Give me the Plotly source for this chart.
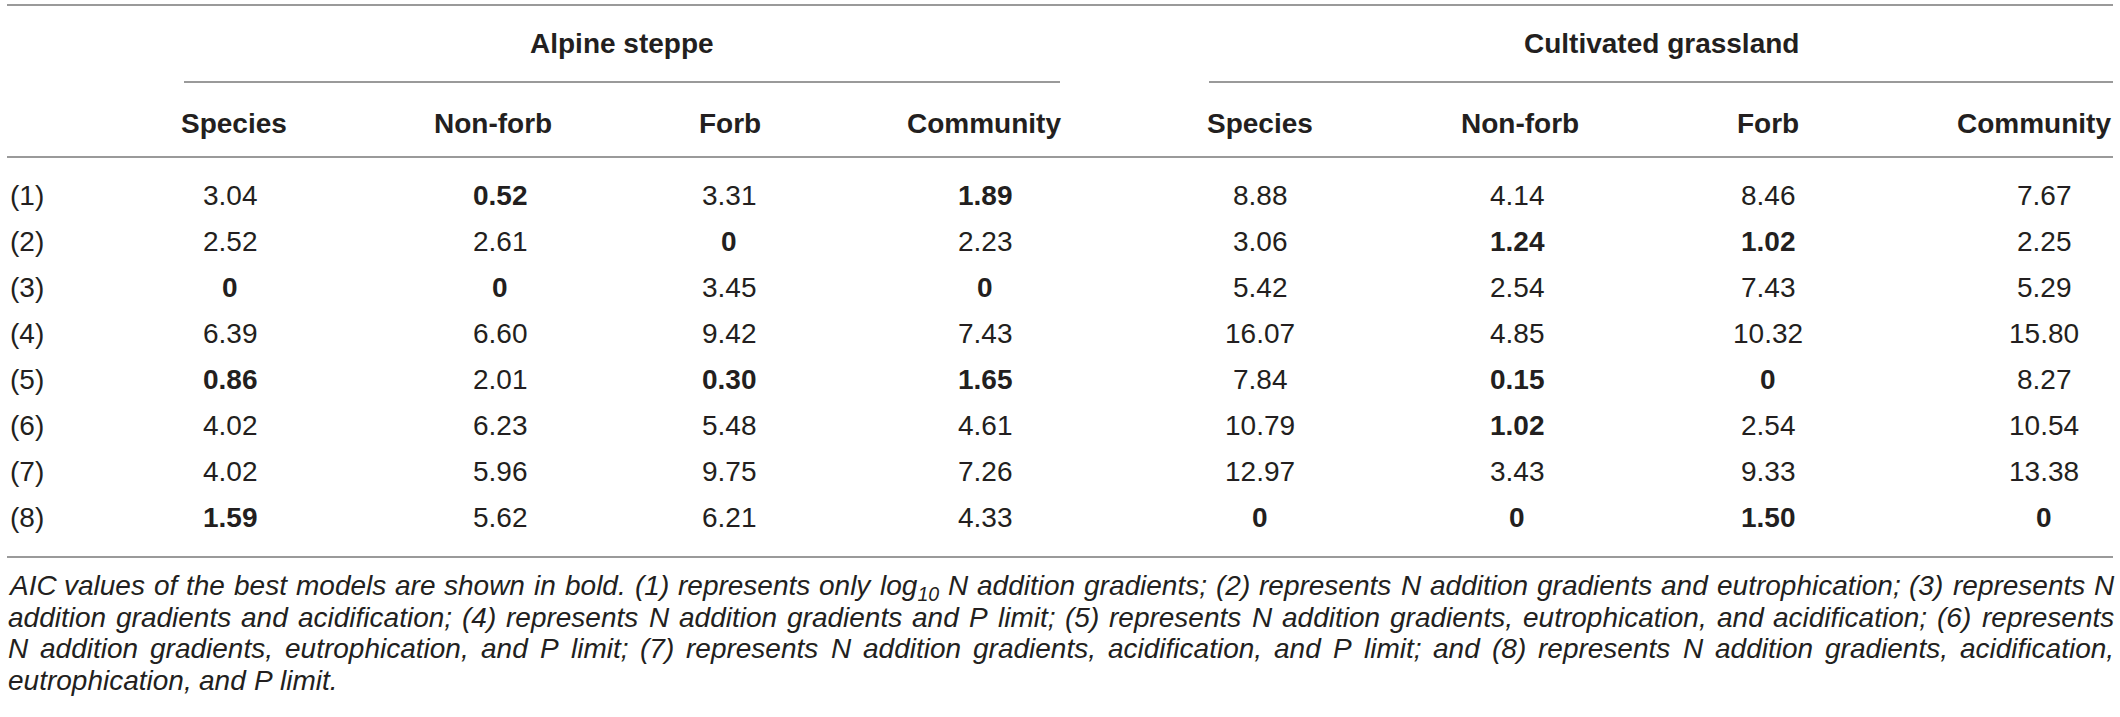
import re
import plotly.graph_objects as go

# table content
groups = ["Alpine steppe", "Cultivated grassland"]
columns = ["Species", "Non-forb", "Forb", "Community"]
models = ["(1)", "(2)", "(3)", "(4)", "(5)", "(6)", "(7)", "(8)"]

alpine_species = ["3.04", "2.52", "0", "6.39", "0.86", "4.02", "4.02", "1.59"]
alpine_nonforb = ["0.52", "2.61", "0", "6.60", "2.01", "6.23", "5.96", "5.62"]
alpine_forb = ["3.31", "0", "3.45", "9.42", "0.30", "5.48", "9.75", "6.21"]
alpine_community = ["1.89", "2.23", "0", "7.43", "1.65", "4.61", "7.26", "4.33"]
cult_species = ["8.88", "3.06", "5.42", "16.07", "7.84", "10.79", "12.97", "0"]
cult_nonforb = ["4.14", "1.24", "2.54", "4.85", "0.15", "1.02", "3.43", "0"]
cult_forb = ["8.46", "1.02", "7.43", "10.32", "0", "2.54", "9.33", "1.50"]
cult_community = ["7.67", "2.25", "5.29", "15.80", "8.27", "10.54", "13.38", "0"]

# best models (shown in bold), as (row, column) pairs
best_cells = [(0, 1), (0, 3), (1, 2), (2, 0), (2, 1), (2, 3), (4, 0), (4, 2), (4, 3), (7, 0),
              (1, 5), (1, 6), (4, 5), (4, 6), (5, 5), (7, 4), (7, 5), (7, 6), (7, 7)]

footnote = [
    "AIC values of the best models are shown in bold. (1) represents only log<sub>10</sub> N addition gradients; (2) represents N addition gradients and eutrophication; (3) represents N",
    "addition gradients and acidification; (4) represents N addition gradients and P limit; (5) represents N addition gradients, eutrophication, and acidification; (6) represents",
    "N addition gradients, eutrophication, and P limit; (7) represents N addition gradients, acidification, and P limit; and (8) represents N addition gradients, acidification,",
    "eutrophication, and P limit.",
]

data_cols = [alpine_species, alpine_nonforb, alpine_forb, alpine_community,
             cult_species, cult_nonforb, cult_forb, cult_community]

FONT = "Arial, Liberation Sans, Helvetica, sans-serif"
TXT = "#231f20"
RULE = "#9a9a9a"

W, H = 2120, 717
head_x = [234, 493, 730, 984, 1260, 1520, 1768, 2034]
cell_x = [230, 500, 729, 985, 1260, 1517, 1768, 2044]
group_x = [622, 1661]
group_span = [(184, 1060), (1209, 2113)]
row_y = [195 + 46 * i for i in range(len(models))]
LEFT, RIGHT = 7, 2113
NOTE_SIZE = 28

# Arial / Liberation Sans advance widths (1/1000 em), used to justify the footnote
_w = {" ": 278, "(": 333, ")": 333, ",": 278, ".": 278, ";": 278, "-": 333}
_w.update({d: 556 for d in "0123456789"})
_w.update(dict(zip("ABCDEFGHIJKLMNOPQRSTUVWXYZ",
                   [667, 667, 722, 722, 667, 611, 778, 722, 278, 500, 667, 556, 833,
                    722, 778, 667, 778, 722, 667, 611, 722, 667, 944, 667, 667, 611])))
_w.update(dict(zip("abcdefghijklmnopqrstuvwxyz",
                   [556, 556, 500, 556, 556, 278, 556, 556, 222, 222, 500, 222, 833,
                    556, 556, 556, 556, 333, 500, 278, 556, 500, 722, 500, 500, 500])))


def text_width(s, size):
    total = 0.0
    for part in re.split(r"(<sub>.*?</sub>)", s):
        scale = 1.0
        if part.startswith("<sub>"):
            part = part[5:-6]
            scale = 0.7
        total += sum(_w.get(ch, 556) for ch in part) * scale
    return total * size / 1000.0


fig = go.Figure()
ann = []

for g, name in enumerate(groups):
    ann.append(dict(x=group_x[g], y=43, text="<b>" + name + "</b>", showarrow=False,
                    font=dict(size=28, color=TXT)))
for c in range(8):
    ann.append(dict(x=head_x[c], y=123, text="<b>" + columns[c % 4] + "</b>", showarrow=False,
                    font=dict(size=28, color=TXT)))

for r, m in enumerate(models):
    ann.append(dict(x=8, y=row_y[r], text=m, xanchor="left", showarrow=False,
                    font=dict(size=28, color=TXT)))
    for c in range(8):
        v = data_cols[c][r]
        if (r, c) in best_cells:
            v = "<b>" + v + "</b>"
        ann.append(dict(x=cell_x[c], y=row_y[r], text=v, showarrow=False,
                        font=dict(size=28, color=TXT)))

# footnote, justified word by word except the last line
for i, line in enumerate(footnote):
    words = line.split(" ")
    widths = [text_width(wd, NOTE_SIZE) for wd in words]
    if i < len(footnote) - 1:
        gap = (RIGHT - LEFT - sum(widths)) / (len(words) - 1)
    else:
        gap = text_width(" ", NOTE_SIZE)
    x = LEFT
    for wd, ww in zip(words, widths):
        ann.append(dict(x=x, y=569 + 31.7 * i, text="<i>" + wd + "</i>", xanchor="left",
                        yanchor="top", showarrow=False, borderpad=0,
                        font=dict(size=NOTE_SIZE, color=TXT)))
        x += ww + gap

shapes = []
for y in [5, 157, 557]:
    shapes.append(dict(type="line", x0=LEFT, x1=RIGHT, y0=y, y1=y, line=dict(color=RULE, width=2)))
for x0, x1 in group_span:
    shapes.append(dict(type="line", x0=x0, x1=x1, y0=82, y1=82, line=dict(color=RULE, width=2)))

fig.update_layout(
    width=W, height=H,
    margin=dict(l=0, r=0, t=0, b=0),
    paper_bgcolor="white", plot_bgcolor="white",
    font=dict(family=FONT),
    xaxis=dict(range=[0, W], visible=False, fixedrange=True),
    yaxis=dict(range=[H, 0], visible=False, fixedrange=True),
    annotations=ann, shapes=shapes, showlegend=False,
)

fig.write_html("out.html", config=dict(displayModeBar=False),
               post_script="document.body.style.margin='0';")
